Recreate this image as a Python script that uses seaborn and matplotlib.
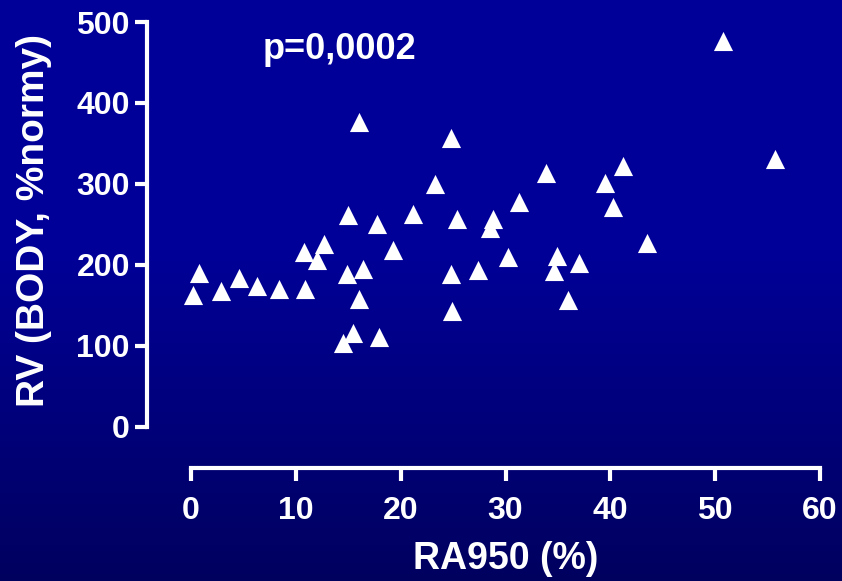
import numpy as np
import pandas as pd
import matplotlib
matplotlib.use("Agg")
import matplotlib.pyplot as plt
import seaborn as sns

# Data
ra950 = [0.2, 0.8, 2.9, 4.6, 6.3, 8.4, 10.9, 10.8, 12.0, 12.7,
         14.5, 15.5, 15.0, 14.9, 16.0, 16.0, 16.4, 17.9, 17.7, 19.3,
         21.2, 23.3, 24.8, 24.8, 24.9, 25.4, 27.4, 28.5, 28.8, 30.2,
         31.3, 33.9, 34.6, 34.9, 36.0, 37.0, 39.5, 40.3, 41.2, 43.5,
         50.7, 55.7]
rv_body = [163, 190, 168, 184, 174, 170, 170, 216, 206, 226,
           103, 116, 262, 189, 377, 158, 195, 111, 251, 218,
           263, 300, 357, 189, 143, 257, 193, 246, 257, 210,
           278, 313, 192, 211, 157, 202, 301, 271, 322, 227,
           476, 331]
x_ticks = [0, 10, 20, 30, 40, 50, 60]
y_ticks = [0, 100, 200, 300, 400, 500]
x_label = "RA950 (%)"
y_label = "RV (BODY, %normy)"
annotation = "p=0,0002"

df = pd.DataFrame({"RA950": ra950, "RV": rv_body})

sns.set_style("ticks")
plt.rcParams["font.family"] = ["Liberation Sans", "DejaVu Sans"]
plt.rcParams["font.weight"] = "bold"

W, H = 842, 581
fig = plt.figure(figsize=(W / 100, H / 100), dpi=100)

# background gradient
bg = fig.add_axes([0, 0, 1, 1], zorder=-10)
rows = np.linspace(0, 1, 256)
top_c = np.array([0, 0, 153]) / 255
bot_c = np.array([0, 0, 95]) / 255
t = np.clip((rows - 0.42) / 0.58, 0, 1)
grad = top_c[None, :] * (1 - t[:, None]) + bot_c[None, :] * t[:, None]
img = np.repeat(grad[:, None, :], 4, axis=1)
bg.imshow(img, aspect="auto", extent=[0, 1, 0, 1], origin="upper")
bg.set_xlim(0, 1)
bg.set_ylim(0, 1)
bg.axis("off")
fig.patch.set_facecolor((0, 0, 0.5))

left, right = 191 / W, 820 / W
bottom, top = (H - 426.7) / H, (H - 22) / H
ax = fig.add_axes([left, bottom, right - left, top - bottom])
ax.set_facecolor("none")

sns.scatterplot(data=df, x="RA950", y="RV", marker="^", s=190, color="white",
                linewidth=0, ax=ax, clip_on=False, zorder=5)

ax.set_xlim(0, 60)
ax.set_ylim(0, 500)
ax.set_xticks(x_ticks)
ax.set_yticks(y_ticks)

for side in ["top", "right"]:
    ax.spines[side].set_visible(False)
ax.spines["left"].set_position(("outward", 32))
ax.spines["bottom"].set_position(("outward", 30))
for side in ["left", "bottom"]:
    ax.spines[side].set_color("white")
    ax.spines[side].set_linewidth(3)
    ax.spines[side].set_capstyle("projecting")

ax.tick_params(axis="both", colors="white", width=3, length=9,
               labelsize=23)
ax.tick_params(axis="y", pad=3)
ax.tick_params(axis="x", pad=11)
for lab in ax.get_xticklabels() + ax.get_yticklabels():
    lab.set_fontweight("bold")

ax.set_xlabel(x_label, color="white", fontsize=27, fontweight="bold", labelpad=11)
ax.set_ylabel(y_label, color="white", fontsize=28, fontweight="bold")
ax.yaxis.set_label_coords(-0.221, 0.51)

ax.text(6.8, 466, annotation, color="white", fontsize=26, fontweight="bold",
        ha="left", va="center")

fig.savefig("out.png", dpi=100, facecolor=fig.get_facecolor())
